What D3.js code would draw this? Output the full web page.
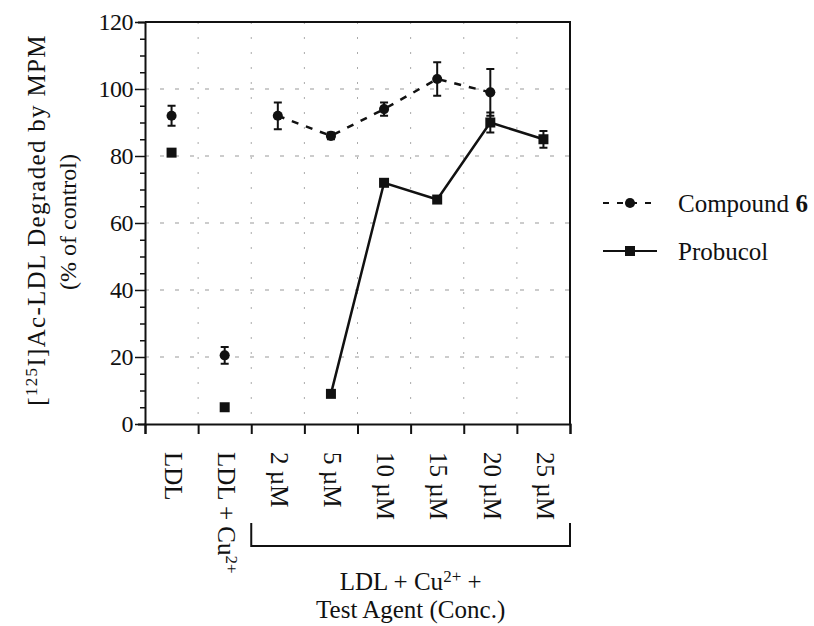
<!DOCTYPE html>
<html>
<head>
<meta charset="utf-8">
<script src="https://cdn.jsdelivr.net/npm/d3@7"></script>
<style>
  body { margin: 0; background: #fff; }
  svg text { font-family: "Liberation Serif", "DejaVu Serif", serif; fill: #111; }
</style>
</head>
<body>
<div id="chart"></div>
<script>
// categories along x
const categories = ['LDL', 'LDL + Cu', '2 µM', '5 µM', '10 µM', '15 µM', '20 µM', '25 µM'];
const yTicks = [0, 20, 40, 60, 80, 100, 120];

// Compound 6 (% of control), null = not shown
const compound6 = [92, 20.5, 92, 86, 94, 103, 99, null];
const compound6Err = [3, 2.5, 4, 1, 2, 5, 7, null];
// Probucol
const probucol = [81, 5, null, 9, 72, 67, 90, 85];
const probucolErr = [1, 0.5, null, 0.5, 0.5, 0.5, 3, 2.5];

// which points are connected by the series line (treatment groups only)
const lineStart = 2;

const W = 814, H = 626;
const m = { left: 145, top: 22, right: 244, bottom: 202 };
const innerW = W - m.left - m.right;   // 425
const innerH = H - m.top - m.bottom;   // 402

const svg = d3.select('#chart').append('svg')
  .attr('width', W)
  .attr('height', H);

const x = d3.scaleBand().domain(categories).range([m.left, m.left + innerW]);
const xEdge = d3.scaleLinear().domain([0, categories.length]).range([m.left, m.left + innerW]);
const y = d3.scaleLinear().domain([0, 120]).range([m.top + innerH, m.top]);
const cx = d => x(d) + x.bandwidth() / 2;

// grid
svg.append('g')
  .selectAll('line')
  .data(yTicks.filter(t => t > 0 && t < 120))
  .join('line')
  .attr('x1', m.left).attr('x2', m.left + innerW)
  .attr('y1', d => y(d)).attr('y2', d => y(d))
  .attr('stroke', '#999')
  .attr('stroke-width', 1)
  .attr('stroke-dasharray', '4,11');

svg.append('g')
  .selectAll('line')
  .data(d3.range(1, categories.length))
  .join('line')
  .attr('x1', d => xEdge(d)).attr('x2', d => xEdge(d))
  .attr('y1', m.top).attr('y2', m.top + innerH)
  .attr('stroke', '#aaa')
  .attr('stroke-width', 1)
  .attr('stroke-dasharray', '2,13');

// frame (top and right)
svg.append('path')
  .attr('d', `M${m.left},${m.top}H${m.left + innerW}V${m.top + innerH}`)
  .attr('fill', 'none')
  .attr('stroke', '#111')
  .attr('stroke-width', 2);

// y axis with minor ticks
const yAxis = svg.append('g')
  .attr('transform', `translate(${m.left},0)`)
  .call(d3.axisLeft(y).tickValues(d3.range(0, 121, 5)).tickSize(7).tickFormat(''));
yAxis.select('.domain').attr('stroke', '#111').attr('stroke-width', 2);
yAxis.selectAll('.tick line').attr('stroke', '#111').attr('stroke-width', 1.5).attr('x2', d => d % 20 === 0 ? -10 : -5).attr('x1', 1);

svg.append('g')
  .selectAll('text')
  .data(yTicks)
  .join('text')
  .attr('x', m.left - 12)
  .attr('y', d => y(d))
  .attr('dy', '0.35em')
  .attr('text-anchor', 'end')
  .style('font-size', '24px')
  .style('letter-spacing', '-0.5px')
  .text(d => d);

// x axis
const xAxis = svg.append('g')
  .attr('transform', `translate(0,${m.top + innerH})`)
  .call(d3.axisBottom(xEdge).ticks(categories.length).tickSize(10).tickFormat(''));
xAxis.select('.domain').attr('stroke', '#111').attr('stroke-width', 2);
xAxis.selectAll('.tick line').attr('stroke', '#111').attr('stroke-width', 2);

// rotated category labels
const xl = svg.append('g')
  .selectAll('text')
  .data(categories)
  .join('text')
  .attr('transform', d => `translate(${cx(d) + 2},${m.top + innerH + 28}) rotate(90)`)
  .attr('dy', '0.35em')
  .style('font-size', '25px');
xl.each(function(d) {
  const t = d3.select(this);
  if (d === 'LDL + Cu') {
    t.append('tspan').text('LDL + Cu');
    t.append('tspan').attr('baseline-shift', '45%').style('font-size', '17px').text('2+');
  } else {
    t.text(d);
  }
});

// bracket for treatment groups
const bx0 = xEdge(lineStart), bx1 = xEdge(categories.length);
svg.append('path')
  .attr('d', `M${bx0},${m.top + innerH + 99}V${m.top + innerH + 122}H${bx1}V${m.top + innerH + 99}`)
  .attr('fill', 'none')
  .attr('stroke', '#111')
  .attr('stroke-width', 2);

const bl = svg.append('text')
  .attr('x', (bx0 + bx1) / 2)
  .attr('y', m.top + innerH + 166)
  .attr('text-anchor', 'middle')
  .style('font-size', '25px');
bl.append('tspan').text('LDL + Cu');
bl.append('tspan').attr('baseline-shift', '45%').style('font-size', '17px').text('2+');
bl.append('tspan').attr('baseline-shift', '0').text(' +');

svg.append('text')
  .attr('x', (bx0 + bx1) / 2)
  .attr('y', m.top + innerH + 194)
  .attr('text-anchor', 'middle')
  .style('font-size', '25px')
  .text('Test Agent (Conc.)');

// y axis title
const yt = svg.append('text')
  .attr('transform', `translate(45,220) rotate(-90)`)
  .attr('text-anchor', 'middle')
  .style('font-size', '25px')
  .style('letter-spacing', '1.3px');
yt.append('tspan').text('[');
yt.append('tspan').attr('baseline-shift', '45%').style('font-size', '17px').text('125');
yt.append('tspan').attr('baseline-shift', '0').text('I]Ac-LDL Degraded by MPM');
svg.append('text')
  .attr('transform', `translate(76,222) rotate(-90)`)
  .attr('text-anchor', 'middle')
  .style('font-size', '24px')
  .text('(% of control)');

// series
const series = [
  { name: 'Compound 6', values: compound6, err: compound6Err, dash: '7,8', symbol: d3.symbolCircle, size: 80 },
  { name: 'Probucol', values: probucol, err: probucolErr, dash: null, symbol: d3.symbolSquare, size: 100 }
];

series.forEach(s => {
  const pts = categories.map((c, i) => ({ c, i, v: s.values[i], e: s.err[i] }))
    .filter(p => p.v != null);

  const line = d3.line().x(p => cx(p.c)).y(p => y(p.v));
  svg.append('path')
    .datum(pts.filter(p => p.i >= lineStart))
    .attr('d', line)
    .attr('fill', 'none')
    .attr('stroke', '#111')
    .attr('stroke-width', 2.5)
    .attr('stroke-dasharray', s.dash);

  const g = svg.append('g');
  const eb = pts.filter(p => p.e > 0.8);
  g.selectAll('.err')
    .data(eb)
    .join('path')
    .attr('d', p => {
      const X = cx(p.c), y0 = y(p.v - p.e), y1 = y(p.v + p.e);
      return `M${X},${y0}V${y1}M${X - 4},${y0}H${X + 4}M${X - 4},${y1}H${X + 4}`;
    })
    .attr('fill', 'none')
    .attr('stroke', '#111')
    .attr('stroke-width', 2);

  g.selectAll('.pt')
    .data(pts)
    .join('path')
    .attr('transform', p => `translate(${cx(p.c)},${y(p.v)})`)
    .attr('d', d3.symbol().type(s.symbol).size(s.size))
    .attr('fill', '#111');
});

// legend
const legend = svg.append('g')
  .selectAll('g')
  .data(series)
  .join('g')
  .attr('transform', (d, i) => `translate(603,${203 + i * 48})`);

legend.append('line')
  .attr('x1', 0).attr('x2', 54)
  .attr('stroke', '#111')
  .attr('stroke-width', 2)
  .attr('stroke-dasharray', d => d.dash ? '6,8' : null);

legend.append('path')
  .attr('transform', 'translate(27,0)')
  .attr('d', d => d3.symbol().type(d.symbol).size(d.size)())
  .attr('fill', '#111');

legend.append('text')
  .attr('x', 75)
  .attr('dy', '0.35em')
  .style('font-size', '25px')
  .each(function(d) {
    const t = d3.select(this);
    if (d.name === 'Compound 6') {
      t.append('tspan').text('Compound ');
      t.append('tspan').style('font-weight', 'bold').text('6');
    } else {
      t.text(d.name);
    }
  });
</script>
</body>
</html>
